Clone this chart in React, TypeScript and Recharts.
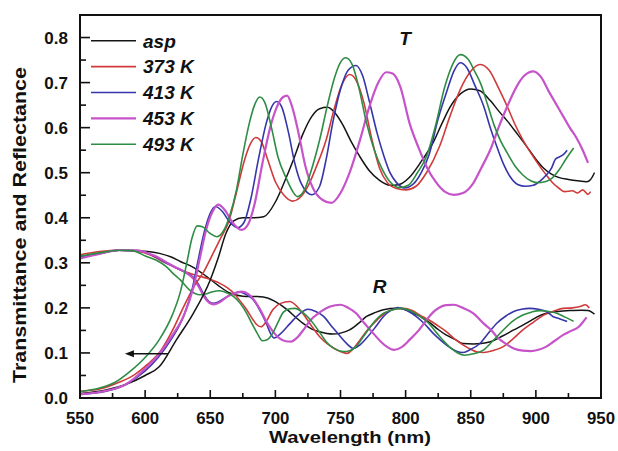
import React from 'react';
import { LineChart, Line, XAxis, YAxis, ReferenceArea, ReferenceDot, ReferenceLine, Legend } from 'recharts';

const FONT = 'Liberation Sans, Arial, Helvetica, sans-serif';

// Tick values
const xTicks = [550, 575, 600, 625, 650, 675, 700, 725, 750, 775, 800, 825, 850, 875, 900, 925, 950];
const yTicks = [0, 0.05, 0.1, 0.15, 0.2, 0.25, 0.3, 0.35, 0.4, 0.45, 0.5, 0.55, 0.6, 0.65, 0.7, 0.75, 0.8];

// Transmittance curves [wavelength nm, value]
const aspT: [number, number][] = [[550,0.01],[570,0.018],[585,0.03],[600,0.05],[611,0.07],[624,0.129],[637,0.188],[650,0.262],[656,0.31],[662,0.365],[668,0.393],[675,0.4],[683,0.4],[691,0.402],[700,0.435],[707,0.48],[714,0.53],[721,0.585],[728,0.625],[734,0.642],[740,0.645],[746,0.632],[752,0.605],[758,0.57],[765,0.535],[772,0.505],[780,0.483],[788,0.472],[795,0.474],[803,0.49],[812,0.525],[821,0.566],[828,0.61],[834,0.645],[842,0.675],[850,0.686],[857,0.682],[865,0.66],[872,0.635],[878,0.615],[886,0.585],[893,0.558],[900,0.53],[906,0.51],[912,0.497],[918,0.489],[925,0.485],[932,0.482],[939,0.48],[942,0.485],[945,0.5]];
const k373T: [number, number][] = [[550,0.015],[565,0.02],[580,0.035],[592,0.052],[602,0.075],[612,0.105],[621,0.15],[630,0.205],[638,0.25],[645,0.28],[652,0.32],[658,0.355],[664,0.39],[670,0.455],[676,0.525],[681,0.565],[685,0.578],[689,0.57],[694,0.53],[700,0.48],[706,0.452],[713,0.437],[719,0.445],[725,0.47],[731,0.51],[739,0.573],[745,0.64],[751,0.695],[757,0.718],[762,0.705],[768,0.655],[774,0.575],[780,0.51],[786,0.478],[793,0.465],[800,0.462],[808,0.47],[816,0.5],[826,0.558],[834,0.625],[842,0.685],[850,0.725],[857,0.74],[864,0.728],[871,0.69],[878,0.647],[884,0.607],[890,0.573],[897,0.54],[903,0.514],[908,0.495],[913,0.477],[918,0.465],[922,0.458],[928,0.46],[932,0.455],[936,0.462],[940,0.452],[942,0.458]];
const k413T: [number, number][] = [[550,0.008],[570,0.015],[585,0.03],[600,0.06],[610,0.09],[620,0.13],[630,0.185],[636,0.24],[641,0.31],[646,0.375],[650,0.41],[654,0.425],[659,0.415],[665,0.39],[671,0.378],[676,0.39],[681,0.44],[687,0.53],[693,0.61],[697,0.645],[701,0.658],[705,0.645],[710,0.59],[715,0.52],[720,0.475],[728,0.451],[734,0.47],[739,0.53],[744,0.61],[750,0.685],[756,0.728],[762,0.738],[767,0.715],[772,0.66],[778,0.589],[783,0.54],[788,0.5],[793,0.478],[799,0.466],[806,0.475],[812,0.5],[818,0.54],[825,0.62],[832,0.684],[837,0.725],[842,0.744],[847,0.733],[853,0.695],[860,0.647],[865,0.6],[870,0.558],[875,0.52],[880,0.492],[886,0.474],[892,0.47],[898,0.472],[903,0.481],[908,0.495],[912,0.51],[915,0.53],[918,0.535],[921,0.54],[924,0.55]];
const k453T: [number, number][] = [[550,0.008],[570,0.016],[585,0.03],[600,0.065],[610,0.095],[620,0.135],[630,0.185],[637,0.245],[642,0.31],[647,0.375],[652,0.415],[656,0.429],[661,0.418],[667,0.39],[674,0.373],[679,0.385],[684,0.43],[690,0.52],[696,0.6],[701,0.645],[706,0.668],[709,0.671],[713,0.645],[718,0.585],[723,0.515],[729,0.465],[736,0.44],[743,0.433],[750,0.455],[757,0.5],[765,0.573],[772,0.645],[779,0.7],[785,0.723],[790,0.72],[796,0.69],[803,0.61],[810,0.555],[816,0.514],[823,0.48],[830,0.458],[837,0.451],[844,0.455],[852,0.477],[858,0.51],[865,0.551],[872,0.605],[878,0.647],[885,0.69],[891,0.715],[898,0.725],[904,0.712],[910,0.68],[915,0.655],[921,0.625],[926,0.6],[931,0.578],[936,0.55],[940,0.522]];
const k493T: [number, number][] = [[550,0.014],[565,0.022],[577,0.035],[588,0.058],[600,0.09],[611,0.13],[621,0.185],[627,0.235],[632,0.3],[636,0.355],[640,0.382],[644,0.38],[650,0.365],[655,0.358],[660,0.37],[665,0.405],[670,0.46],[675,0.54],[680,0.61],[684,0.65],[688,0.668],[692,0.655],[697,0.6],[702,0.535],[708,0.49],[713,0.46],[717,0.447],[722,0.46],[727,0.5],[734,0.573],[740,0.65],[745,0.707],[750,0.745],[754,0.755],[759,0.74],[764,0.69],[770,0.61],[776,0.55],[782,0.508],[788,0.48],[795,0.467],[802,0.472],[809,0.5],[816,0.536],[823,0.605],[830,0.69],[836,0.74],[842,0.762],[848,0.752],[853,0.725],[858,0.695],[863,0.65],[868,0.605],[873,0.57],[878,0.544],[884,0.515],[890,0.495],[896,0.482],[901,0.478],[907,0.48],[912,0.487],[918,0.507],[923,0.53],[929,0.555]];

// Reflectance curves [wavelength nm, value]
const aspR: [number, number][] = [[550,0.31],[565,0.322],[580,0.328],[595,0.327],[611,0.321],[620,0.313],[627,0.303],[637,0.29],[647,0.27],[656,0.25],[665,0.233],[675,0.226],[686,0.225],[694,0.222],[700,0.214],[709,0.196],[716,0.178],[721,0.166],[728,0.153],[734,0.147],[744,0.142],[750,0.144],[757,0.151],[764,0.166],[770,0.181],[777,0.19],[783,0.196],[793,0.199],[800,0.196],[806,0.188],[813,0.178],[819,0.166],[825,0.152],[831,0.14],[838,0.13],[844,0.121],[852,0.12],[858,0.121],[865,0.125],[874,0.137],[883,0.151],[889,0.16],[895,0.17],[901,0.18],[908,0.188],[917,0.192],[926,0.194],[935,0.195],[940,0.194],[945,0.186]];
const k373R: [number, number][] = [[550,0.318],[565,0.325],[580,0.328],[595,0.325],[605,0.316],[611,0.307],[620,0.294],[627,0.284],[635,0.276],[642,0.27],[648,0.265],[657,0.255],[663,0.245],[668,0.233],[673,0.215],[678,0.196],[683,0.173],[686,0.162],[689,0.158],[693,0.17],[698,0.196],[704,0.21],[711,0.214],[716,0.205],[721,0.188],[727,0.163],[734,0.136],[740,0.12],[747,0.107],[755,0.099],[760,0.11],[765,0.129],[771,0.152],[778,0.173],[784,0.188],[790,0.196],[798,0.199],[805,0.194],[811,0.184],[818,0.173],[824,0.162],[831,0.148],[838,0.13],[844,0.118],[850,0.108],[855,0.102],[860,0.101],[867,0.105],[875,0.114],[882,0.13],[890,0.151],[898,0.168],[906,0.184],[914,0.193],[921,0.199],[928,0.2],[934,0.203],[938,0.207],[941,0.2]];
const k413R: [number, number][] = [[550,0.312],[565,0.32],[580,0.328],[595,0.327],[603,0.32],[610,0.31],[616,0.3],[622,0.292],[632,0.277],[637,0.268],[641,0.252],[645,0.23],[649,0.214],[653,0.21],[658,0.216],[663,0.225],[668,0.232],[673,0.235],[678,0.229],[683,0.218],[688,0.195],[693,0.166],[696,0.145],[699,0.133],[703,0.14],[709,0.158],[714,0.174],[719,0.188],[725,0.197],[731,0.192],[737,0.181],[743,0.16],[750,0.136],[755,0.12],[760,0.11],[765,0.118],[770,0.133],[777,0.158],[783,0.181],[789,0.195],[794,0.201],[801,0.194],[808,0.181],[815,0.163],[821,0.144],[827,0.128],[833,0.114],[839,0.104],[844,0.101],[850,0.108],[857,0.121],[863,0.142],[870,0.166],[877,0.182],[883,0.192],[889,0.197],[895,0.199],[902,0.197],[908,0.192],[913,0.181],[918,0.176],[924,0.17]];
const k453R: [number, number][] = [[550,0.31],[565,0.32],[580,0.328],[595,0.327],[603,0.32],[610,0.312],[616,0.302],[622,0.292],[632,0.277],[637,0.265],[641,0.248],[645,0.226],[649,0.212],[653,0.208],[658,0.214],[663,0.225],[668,0.232],[674,0.236],[679,0.231],[683,0.22],[688,0.198],[693,0.17],[698,0.148],[703,0.133],[708,0.126],[712,0.125],[717,0.135],[722,0.153],[727,0.173],[734,0.19],[742,0.203],[750,0.207],[756,0.2],[762,0.188],[768,0.167],[775,0.144],[781,0.125],[786,0.113],[791,0.107],[797,0.113],[803,0.129],[810,0.15],[816,0.173],[821,0.19],[826,0.201],[831,0.206],[837,0.207],[844,0.2],[852,0.188],[860,0.165],[866,0.15],[870,0.136],[877,0.12],[883,0.11],[890,0.105],[896,0.104],[902,0.107],[908,0.114],[914,0.126],[921,0.14],[927,0.149],[933,0.158],[936,0.168],[939,0.179]];
const k493R: [number, number][] = [[550,0.315],[565,0.322],[580,0.328],[590,0.327],[601,0.314],[609,0.305],[616,0.292],[622,0.275],[627,0.262],[634,0.24],[642,0.229],[648,0.232],[652,0.236],[657,0.238],[663,0.233],[668,0.225],[673,0.21],[678,0.188],[682,0.165],[686,0.144],[690,0.127],[694,0.13],[698,0.144],[702,0.168],[706,0.19],[711,0.198],[715,0.199],[721,0.19],[727,0.173],[733,0.15],[739,0.125],[745,0.11],[752,0.103],[757,0.105],[762,0.114],[768,0.138],[775,0.166],[782,0.186],[790,0.196],[797,0.199],[804,0.193],[811,0.181],[818,0.165],[824,0.144],[830,0.124],[835,0.11],[840,0.1],[845,0.095],[852,0.098],[860,0.107],[867,0.127],[875,0.151],[882,0.17],[890,0.184],[897,0.191],[903,0.194],[910,0.192],[916,0.188],[922,0.18],[929,0.17]];

const SERIES = [
  { name: 'asp', color: '#141414', width: 1.5, T: aspT, R: aspR },
  { name: '373 K', color: '#d03a3a', width: 1.6, T: k373T, R: k373R },
  { name: '413 K', color: '#3636aa', width: 1.6, T: k413T, R: k413R },
  { name: '453 K', color: '#c653c9', width: 2.2, T: k453T, R: k453R },
  { name: '493 K', color: '#2f8c45', width: 1.6, T: k493T, R: k493R },
];

// Annotations
const T_LABEL = { x: 799.5, y: 0.798 };
const R_LABEL = { x: 780, y: 0.249 };
const ARROW = { from: 617.5, to: 584.5, y: 0.098 };

const toPts = (arr: [number, number][]) => arr.map(([x, y]) => ({ x, y }));

const XTick = (p: any) => {
  const v = p.payload.value;
  const major = v % 50 === 0;
  return (
    <g>
      <line x1={p.x} x2={p.x} y1={p.y} y2={p.y - (major ? 8 : 5)} stroke="#111" strokeWidth={1.6} />
      {major && (
        <text x={p.x} y={p.y + 26} textAnchor="middle" fontSize={16} fontWeight="bold" fontFamily={FONT} fill="#111" textLength={28} lengthAdjust="spacingAndGlyphs">
          {v}
        </text>
      )}
    </g>
  );
};

const YTick = (p: any) => {
  const v = p.payload.value;
  const major = Math.round(v * 100) % 10 === 0;
  return (
    <g>
      <line x1={p.x} x2={p.x + (major ? 10 : 6)} y1={p.y} y2={p.y} stroke="#111" strokeWidth={1.6} />
      {major && (
        <text x={p.x - 12} y={p.y + 6} textAnchor="end" fontSize={17} fontWeight="bold" fontFamily={FONT} fill="#111">
          {v.toFixed(1)}
        </text>
      )}
    </g>
  );
};

const LegendBox = () => (
  <svg width={120} height={135} style={{ display: 'block' }}>
    {SERIES.map((s, i) => {
      const cy = 12.7 + i * 25.9;
      return (
        <g key={s.name}>
          <line x1={7} x2={52} y1={cy} y2={cy} stroke={s.color} strokeWidth={s.width} />
          <text x={59} y={cy + 6.8} fontSize={19} fontWeight="bold" fontStyle="italic" fontFamily={FONT} fill="#111">
            {s.name}
          </text>
        </g>
      );
    })}
  </svg>
);

const TextMark = (txt: string) => (p: any) => (
  <text x={p.cx} y={p.cy + 7} textAnchor="middle" fontSize={19} fontWeight="bold" fontStyle="italic" fontFamily={FONT} fill="#111">
    {txt}
  </text>
);

const ArrowShape = (p: any) => {
  const x1 = Math.max(p.x1, p.x2);
  const x2 = Math.min(p.x1, p.x2);
  const y = p.y1;
  return (
    <g>
      <line x1={x1} x2={x2 + 6} y1={y} y2={y} stroke="#111" strokeWidth={1.5} />
      <polygon points={`${x2},${y} ${x2 + 9},${y - 3.5} ${x2 + 9},${y + 3.5}`} fill="#111" />
    </g>
  );
};

export default function App() {
  return (
    <div style={{ position: 'absolute', left: 0, top: 0, width: 618, height: 451, background: '#fff' }}>
      <LineChart width={618} height={451} margin={{ top: 15, right: 17, bottom: 0, left: 0 }}>
        <XAxis
          dataKey="x"
          type="number"
          domain={[550, 950]}
          ticks={xTicks}
          interval={0}
          allowDataOverflow
          height={53}
          tickSize={0}
          tickMargin={0}
          tickLine={false}
          axisLine={{ stroke: '#111', strokeWidth: 2 }}
          tick={<XTick />}
          label={{
            content: () => (
              <text x={350} y={443} textAnchor="middle" fontSize={17} fontWeight="bold" fontFamily={FONT} fill="#111" textLength={162} lengthAdjust="spacingAndGlyphs">
                Wavelength (nm)
              </text>
            ),
          }}
        />
        <YAxis
          type="number"
          domain={[0, 0.85]}
          ticks={yTicks}
          interval={0}
          allowDataOverflow
          width={80}
          tickSize={0}
          tickMargin={0}
          tickLine={false}
          axisLine={{ stroke: '#111', strokeWidth: 2 }}
          tick={<YTick />}
          label={{
            content: () => (
              <text x={19} y={225} transform="rotate(-90 19 225)" dy={6.5} textAnchor="middle" fontSize={18} fontWeight="bold" fontFamily={FONT} fill="#111" textLength={316} lengthAdjust="spacingAndGlyphs">
                Transmittance and Reflectance
              </text>
            ),
          }}
        />
        <ReferenceArea x1={550} x2={950} y1={0} y2={0.85} fill="none" stroke="#111" strokeWidth={2} />
        {SERIES.map((s) => (
          <Line
            key={s.name + '-R'}
            data={toPts(s.R)}
            dataKey="y"
            name={s.name + ' R'}
            type="monotone"
            stroke={s.color}
            strokeWidth={s.width}
            dot={false}
            activeDot={false}
            legendType="none"
            isAnimationActive={false}
          />
        ))}
        {SERIES.map((s) => (
          <Line
            key={s.name + '-T'}
            data={toPts(s.T)}
            dataKey="y"
            name={s.name}
            type="monotone"
            stroke={s.color}
            strokeWidth={s.width}
            dot={false}
            activeDot={false}
            isAnimationActive={false}
          />
        ))}
        <ReferenceDot x={T_LABEL.x} y={T_LABEL.y} r={0} shape={TextMark('T')} />
        <ReferenceDot x={R_LABEL.x} y={R_LABEL.y} r={0} shape={TextMark('R')} />
        <ReferenceLine
          segment={[{ x: ARROW.from, y: ARROW.y }, { x: ARROW.to, y: ARROW.y }]}
          shape={ArrowShape}
        />
        <Legend
          layout="vertical"
          align="center"
          verticalAlign="middle"
          content={<LegendBox />}
          wrapperStyle={{ left: 84, top: 28, width: 120, height: 135 }}
        />
      </LineChart>
    </div>
  );
}
